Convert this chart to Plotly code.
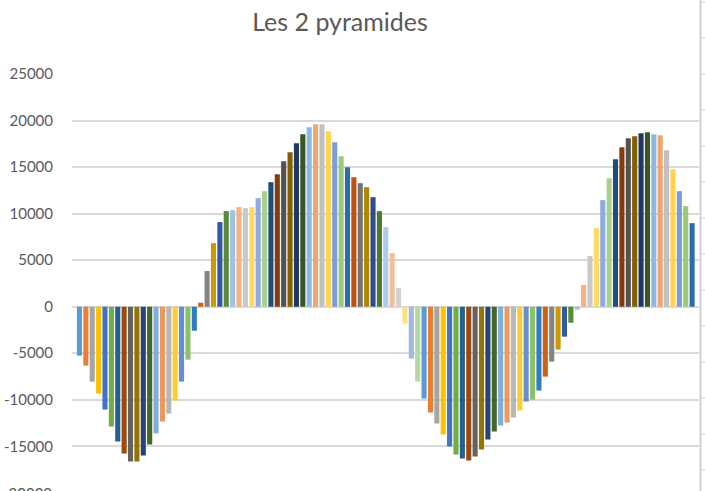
import colorsys
import plotly.graph_objects as go

# ---- data ----
title_text = "Les 2 pyramides"
categories = list(range(1, 98))
values = [
    -5260, -6330, -8050, -9330, -11050, -12880, -14480, -15770, -16630, -16630,
    -15990, -14810, -13620, -12340, -11480, -10090, -8050, -5690, -2580, 430,
    3830, 6830, 9090, 10270, 10370, 10700, 10590, 10700, 11660, 12410,
    13380, 14240, 15630, 16600, 17560, 18530, 19280, 19600, 19600, 18850,
    17670, 16170, 14990, 13920, 13270, 12840, 11770, 10270, 8550, 5760,
    2000, -1820, -5580, -8050, -9870, -11370, -12550, -13730, -15020, -15880,
    -16310, -16520, -16090, -15340, -14270, -13410, -12770, -12450, -11910, -11160,
    -10190, -9980, -9010, -7510, -5900, -4610, -3220, -1720, -320, 2330,
    5440, 8440, 11450, 13810, 15850, 17130, 18100, 18320, 18640, 18740,
    18530, 18420, 16810, 14770, 12410, 10800, 8980,
]
y_ticks = [-15000, -10000, -5000, 0, 5000, 10000, 15000, 20000, 25000]
clipped_tick = -20000

# ---- style: Excel "vary colours by point" palette ----
accents = ["#5B9BD5", "#ED7D31", "#A5A5A5", "#FFC000", "#4472C4", "#70AD47"]
lum_variants = [(1.0, 0.0), (0.6, 0.0), (0.8, 0.2), (0.8, 0.0), (0.6, 0.4),
                (0.5, 0.0), (0.7, 0.3), (0.7, 0.0), (0.5, 0.5)]


def lum(hexcol, mod, off):
    r, g, b = (int(hexcol[i:i + 2], 16) / 255 for i in (1, 3, 5))
    h, l, s = colorsys.rgb_to_hls(r, g, b)
    l = min(1.0, l * mod + off)
    r, g, b = colorsys.hls_to_rgb(h, l, s)
    return "#%02X%02X%02X" % (round(r * 255), round(g * 255), round(b * 255))


palette = [lum(a, m, o) for (m, o) in lum_variants for a in accents]
colors = [palette[i % len(palette)] for i in range(len(values))]

# page body margin removed in post_script, so layout is in window pixels
OFF = 0
WIN_W, WIN_H = 705, 491
W, H = WIN_W - OFF, WIN_H - OFF
plot_left, plot_right, plot_top, plot_bottom = 72, 699, 74, 491
ML, MR = plot_left - OFF, W - (plot_right - OFF)
MT, MB = plot_top - OFF, H - (plot_bottom - OFF)
y_range = [-19800, 25000]
x_range = [categories[0] - 1.17, categories[-1] + 1.08]
font_fam = "Lato, 'Open Sans', sans-serif"
txt_col = "#595959"
grid_col = "#D9D9D9"
sheet_col = "#CFCFCF"

fig = go.Figure(go.Bar(
    x=categories, y=values, marker=dict(color=colors, line=dict(width=0)),
    showlegend=False, hoverinfo="x+y",
))

plot_h = H - MT - MB
plot_w = W - ML - MR
px_per_unit = plot_h / (y_range[1] - y_range[0])


def px2paper_x(px):  # px in window coordinates
    return (px - plot_left) / plot_w


def px2paper_y(py):
    return (plot_bottom - py) / plot_h


# spreadsheet cell border seen at the right edge of the reference
shapes = [dict(type="line", xref="paper", yref="paper", layer="above",
               x0=px2paper_x(700.5), x1=px2paper_x(700.5),
               y0=px2paper_y(-2), y1=px2paper_y(WIN_H + 5),
               line=dict(color=sheet_col, width=2))]
for k in range(14):
    py = 2 + 36 * k
    shapes.append(dict(type="line", xref="paper", yref="paper", layer="above",
                       x0=px2paper_x(701.5), x1=px2paper_x(706),
                       y0=px2paper_y(py), y1=px2paper_y(py),
                       line=dict(color=sheet_col, width=1)))

fig.update_layout(
    width=W, height=H,
    margin=dict(l=ML, r=MR, t=MT, b=MB, pad=0),
    paper_bgcolor="white", plot_bgcolor="white",
    bargap=0.2,
    title=dict(text=title_text, x=(340 - OFF) / W, xref="container", xanchor="center",
               y=1 - (22 - OFF) / H, yref="container", yanchor="middle",
               font=dict(family=font_fam, size=25, color=txt_col)),
    xaxis=dict(range=x_range, showticklabels=False, showgrid=False,
               zeroline=False, showline=False, ticks=""),
    yaxis=dict(range=y_range, tickvals=y_ticks, ticktext=[str(v) for v in y_ticks],
               showgrid=True, gridcolor=grid_col, gridwidth=2,
               zeroline=True, zerolinecolor=grid_col, zerolinewidth=2,
               showline=False, ticks="", ticklabelstandoff=18,
               tickfont=dict(family=font_fam, size=15, color=txt_col)),
    shapes=shapes,
    annotations=[dict(text=str(clipped_tick), xref="paper", yref="paper",
                      x=0, y=0, xanchor="right", yanchor="middle",
                      xshift=-18,
                      yshift=(clipped_tick - y_range[0]) * px_per_unit,
                      showarrow=False,
                      font=dict(family=font_fam, size=15, color=txt_col))],
)

fig.write_html(
    "out.html",
    config={"displayModeBar": False},
    post_script="document.body.style.margin='0';"
                "document.documentElement.style.overflow='hidden';",
)
